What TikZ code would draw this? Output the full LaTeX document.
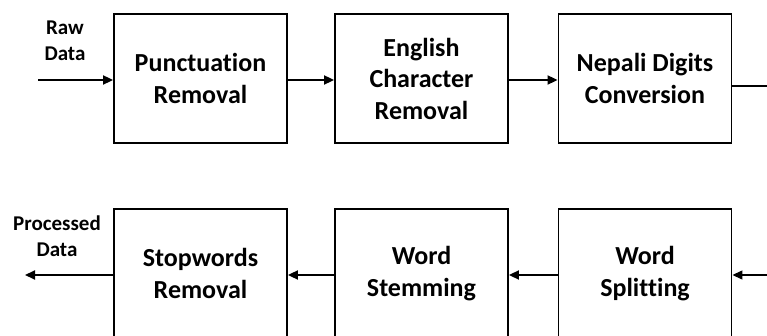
\documentclass[tikz,border=0pt]{standalone}
\usepackage{fontspec}
\setmainfont{Carlito}[Ligatures=NoCommon]
\usetikzlibrary{arrows.meta}
\begin{document}
\begin{tikzpicture}[x=1pt,y=-1pt,
  stagebox/.style={draw, line width=1.9pt, minimum width=173pt, minimum height=129pt,
    inner sep=0pt, align=center, font=\fontsize{26}{31.5}\selectfont\bfseries},
  flowlabel/.style={align=center, inner sep=0pt, font=\fontsize{21}{26}\selectfont\bfseries},
  flow/.style={line width=2pt, -{Triangle[length=10pt,width=9pt]}},
  thinflow/.style={line width=1.4pt, -{Triangle[length=10pt,width=9pt]}}]
\useasboundingbox (0,0) rectangle (767,336);
\clip (0,0) rectangle (767,336);

% upper row
\node[stagebox] (punct) at (200.5,78.5) {Punctuation\\Removal};
\node[stagebox] (engl)  at (421.5,78.5) {English\\Character\\Removal};
\node[stagebox] (digit) at (645,78.5)   {Nepali Digits\\Conversion};

% lower row (runs past the lower edge)
\node[stagebox] (stop)  at (200.5,273.5) {Stopwords\\Removal};
\node[stagebox] (stem)  at (421.5,273.5) {Word\\Stemming};
\node[stagebox] (split) at (645,273.5)   {Word\\Splitting};

% input / output labels
\node[flowlabel] (raw)  at (65,41)  {Raw\\Data};
\node[flowlabel] (proc) at (57,236) {Processed\\Data};

% heights of the connector rows
\coordinate (in)   at (38,80);
\coordinate (out)  at (25,275);
\coordinate (turn) at (790,86);

\draw[flow] (in) -- (in -| punct.west);
\draw[flow] (punct.east |- in) -- (engl.west |- in);
\draw[flow] (engl.east |- in) -- (digit.west |- in);
\draw[thinflow] (digit.east |- turn) -- (turn) |- (split.east |- out);
\draw[flow] (split.west |- out) -- (stem.east |- out);
\draw[flow] (stem.west |- out) -- (stop.east |- out);
\draw[flow] (stop.west |- out) -- (out);
\end{tikzpicture}
\end{document}
